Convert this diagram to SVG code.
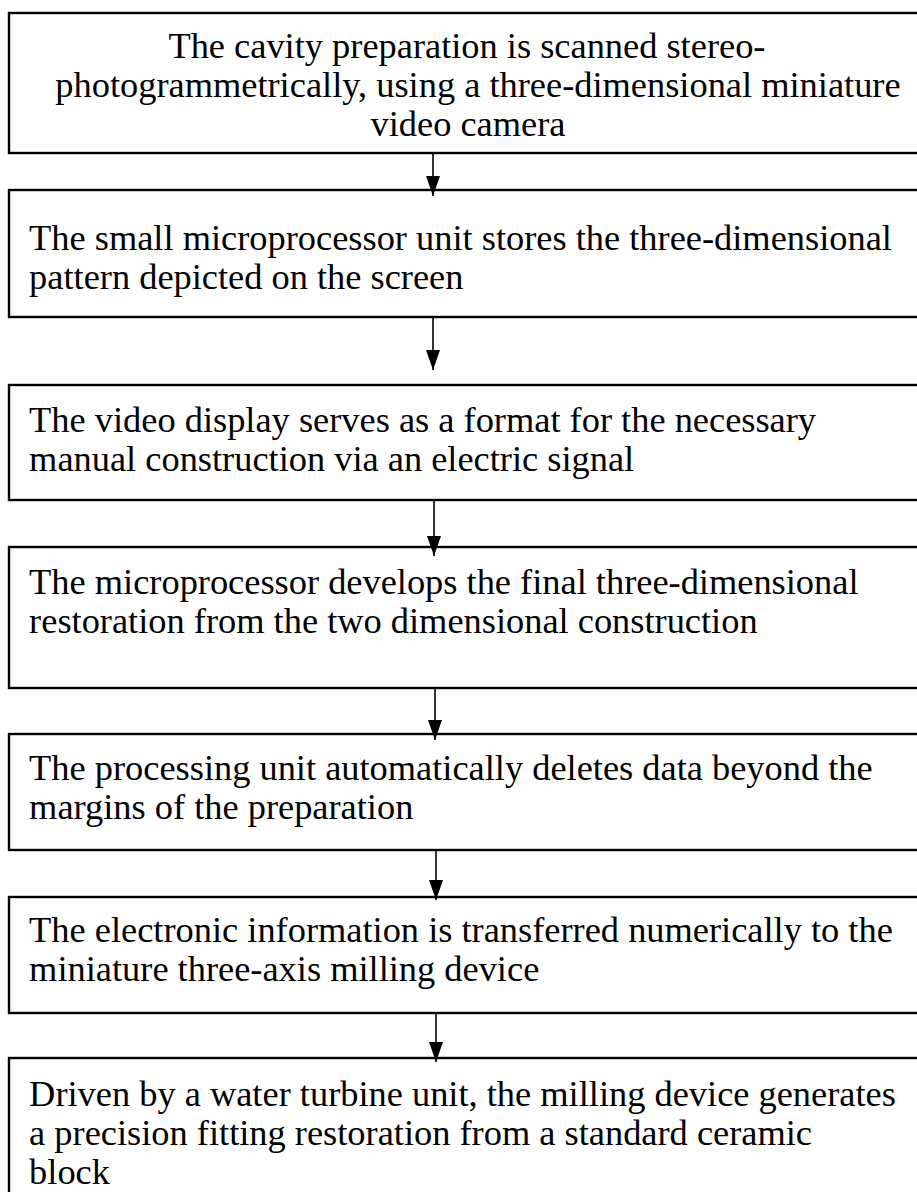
<svg xmlns="http://www.w3.org/2000/svg" width="917" height="1192" viewBox="0 0 917 1192">
<style>
.box{fill:#fff;stroke:#000;stroke-width:2.4}
.t{font-family:"Liberation Serif","Times New Roman",serif;font-size:35px;fill:#000}
.c{text-anchor:middle}
.ln{stroke:#000;stroke-width:1.6;fill:none}
</style>
<defs>
<marker id="ah" markerWidth="20" markerHeight="14" refX="20" refY="7" orient="auto" markerUnits="userSpaceOnUse" viewBox="0 0 20 14">
<path d="M0,0 L20,7 L0,14 Z" fill="#000"/>
</marker>
</defs>
<g id="n1"><rect class="box" x="9" y="13" width="930" height="140"/>
<g transform="scale(1.04,1)">
<text class="t c" x="449" y="58">The cavity preparation is scanned stereo-</text>
<text class="t c" x="459.6" y="97">photogrammetrically, using a three-dimensional miniature</text>
<text class="t c" x="450" y="136">video camera</text></g></g>
<g id="n2"><rect class="box" x="9" y="190" width="930" height="127"/>
<g transform="scale(1.04,1)">
<text class="t" x="28" y="250">The small microprocessor unit stores the three-dimensional</text>
<text class="t" x="28" y="289">pattern depicted on the screen</text></g></g>
<g id="n3"><rect class="box" x="9" y="385" width="930" height="115"/>
<g transform="scale(1.04,1)">
<text class="t" x="28" y="432">The video display serves as a format for the necessary</text>
<text class="t" x="28" y="471">manual construction via an electric signal</text></g></g>
<g id="n4"><rect class="box" x="9" y="547" width="930" height="141"/>
<g transform="scale(1.04,1)">
<text class="t" x="28" y="594">The microprocessor develops the final three-dimensional</text>
<text class="t" x="28" y="633">restoration from the two dimensional construction</text></g></g>
<g id="n5"><rect class="box" x="9" y="734" width="930" height="116"/>
<g transform="scale(1.04,1)">
<text class="t" x="28" y="780">The processing unit automatically deletes data beyond the</text>
<text class="t" x="28" y="819">margins of the preparation</text></g></g>
<g id="n6"><rect class="box" x="9" y="897" width="930" height="116"/>
<g transform="scale(1.04,1)">
<text class="t" x="28" y="942">The electronic information is transferred numerically to the</text>
<text class="t" x="28" y="981">miniature three-axis milling device</text></g></g>
<g id="n7"><rect class="box" x="9" y="1058" width="930" height="150"/>
<g transform="scale(1.04,1)">
<text class="t" x="28" y="1106">Driven by a water turbine unit, the milling device generates</text>
<text class="t" x="28" y="1145">a precision fitting restoration from a standard ceramic</text>
<text class="t" x="28" y="1184">block</text></g></g>
<g id="connectors">
<line class="ln" x1="433" y1="153" x2="433" y2="196" marker-end="url(#ah)"/>
<line class="ln" x1="433" y1="317" x2="433" y2="370" marker-end="url(#ah)"/>
<line class="ln" x1="434" y1="500" x2="434" y2="556" marker-end="url(#ah)"/>
<line class="ln" x1="435" y1="688" x2="435" y2="740" marker-end="url(#ah)"/>
<line class="ln" x1="436" y1="850" x2="436" y2="900" marker-end="url(#ah)"/>
<line class="ln" x1="436" y1="1013" x2="436" y2="1062" marker-end="url(#ah)"/>
</g>
</svg>
